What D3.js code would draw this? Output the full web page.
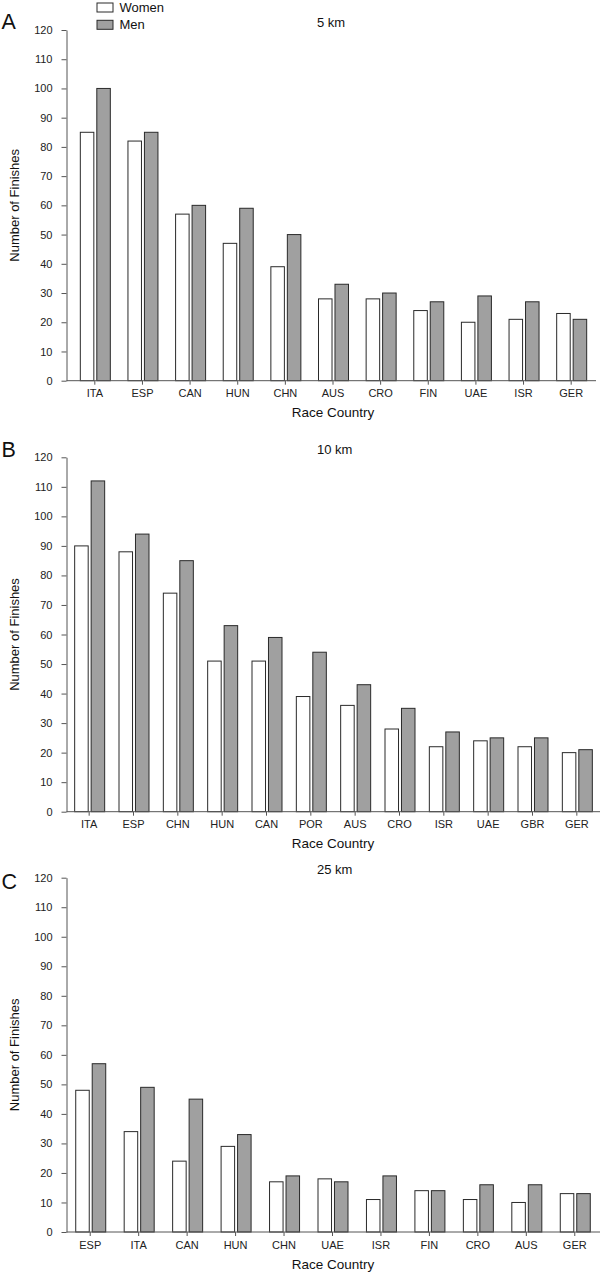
<!DOCTYPE html>
<html><head><meta charset="utf-8">
<script src="https://cdn.jsdelivr.net/npm/d3@7"></script>
<style>body{margin:0;background:#fff}svg{display:block}text{font-family:"Liberation Sans",Arial,sans-serif}</style>
</head><body>
<script>
// ---- data ----
const seriesNames = ["Women", "Men"];
const yTicks = [0,10,20,30,40,50,60,70,80,90,100,110,120];

const catsA = ["ITA","ESP","CAN","HUN","CHN","AUS","CRO","FIN","UAE","ISR","GER"];
const womenA = [85,82,57,47,39,28,28,24,20,21,23];
const menA   = [100,85,60,59,50,33,30,27,29,27,21];

const catsB = ["ITA","ESP","CHN","HUN","CAN","POR","AUS","CRO","ISR","UAE","GBR","GER"];
const womenB = [90,88,74,51,51,39,36,28,22,24,22,20];
const menB   = [112,94,85,63,59,54,43,35,27,25,25,21];

const catsC = ["ESP","ITA","CAN","HUN","CHN","UAE","ISR","FIN","CRO","AUS","GER"];
const womenC = [48,34,24,29,17,18,11,14,11,10,13];
const menC   = [57,49,45,33,19,17,19,14,16,16,13];

const panels = [
  {letter:"A", title:"5 km",  cats:catsA, women:womenA, men:menA, y0:380.7, y1:30,    xr:[71,595], axEnd:596, letterY:28.5},
  {letter:"B", title:"10 km", cats:catsB, women:womenB, men:menB, y0:811.7, y1:457.3, xr:[67,599], axEnd:600, letterY:457},
  {letter:"C", title:"25 km", cats:catsC, women:womenC, men:menC, y0:1232,  y1:877.7, xr:[66,599], axEnd:600, letterY:888.5}
];
const fills = {Women:"#ffffff", Men:"#a0a0a0"};

const svg = d3.select("body").append("svg").attr("width",600).attr("height",1272);
const axisX = 66.5;

panels.forEach(p => {
  const g = svg.append("g");
  const y = d3.scaleLinear().domain([0,120]).range([p.y0, p.y1]);
  const x = d3.scaleBand().domain(p.cats).range(p.xr).padding(0);
  const xs = d3.scaleBand().domain(seriesNames).range([-15,15]).paddingInner(0.18);

  // y axis
  const ya = g.append("g").attr("transform",`translate(${axisX},0)`)
    .call(d3.axisLeft(y).tickValues(yTicks).tickSize(5).tickPadding(9).tickSizeOuter(0));
  ya.select(".domain").attr("stroke","#555");
  ya.selectAll(".tick line").attr("stroke","#555");
  ya.selectAll(".tick text").attr("font-size",11).attr("fill","#222");

  // bars
  const data = p.cats.map((c,i)=>({cat:c, vals:[{s:"Women",v:p.women[i]},{s:"Men",v:p.men[i]}]}));
  const grp = g.selectAll(".cg").data(data).join("g")
    .attr("transform", d=>`translate(${x(d.cat)+x.bandwidth()/2},0)`);
  grp.selectAll("rect").data(d=>d.vals).join("rect")
    .attr("x", d=>xs(d.s)+0.5)
    .attr("width", xs.bandwidth())
    .attr("y", d=>y(d.v))
    .attr("height", d=>y(0)-y(d.v))
    .attr("fill", d=>fills[d.s])
    .attr("stroke","#2a2a2a").attr("stroke-width",1);

  // x axis
  const xa = g.append("g").attr("transform",`translate(0,${p.y0})`)
    .call(d3.axisBottom(x).tickSize(4).tickPadding(5).tickSizeOuter(0));
  xa.select(".domain").remove();
  g.append("line").attr("x1",axisX).attr("x2",p.axEnd).attr("y1",p.y0).attr("y2",p.y0)
    .attr("stroke","#555");
  xa.selectAll(".tick line").attr("stroke","#555");
  xa.selectAll(".tick text").attr("font-size",11).attr("fill","#222");

  // labels
  g.append("text").attr("x",1.5).attr("y",p.letterY).attr("font-size",21.5).attr("fill","#111").text(p.letter);
  g.append("text").attr("x",317).attr("y",p.y1-3.5).attr("font-size",13).attr("fill","#111").text(p.title);
  g.append("text").attr("x",333).attr("y",p.y0+36.5).attr("text-anchor","middle").attr("font-size",13.5).attr("fill","#111").text("Race Country");
  g.append("text").attr("transform",`translate(19,${(p.y0+p.y1)/2}) rotate(-90)`)
    .attr("text-anchor","middle").attr("font-size",13).attr("fill","#111").text("Number of Finishes");
});

// legend
const leg = svg.append("g");
seriesNames.forEach((s,i)=>{
  leg.append("rect").attr("x",97).attr("y",3+i*17.3).attr("width",16).attr("height",9)
    .attr("fill",fills[s]).attr("stroke","#2a2a2a");
  leg.append("text").attr("x",119.5).attr("y",12+i*16.5).attr("font-size",13).attr("fill","#111").text(s);
});
</script>
</body></html>
